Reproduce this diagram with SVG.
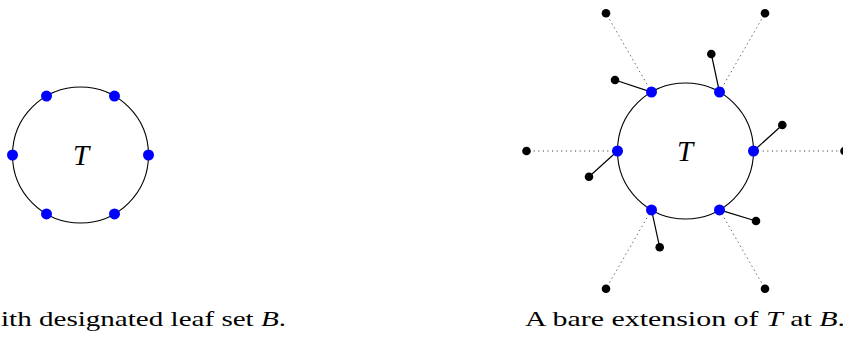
<svg xmlns="http://www.w3.org/2000/svg" width="843" height="338" viewBox="0 0 843 338">
<style>
.ring{fill:none;stroke:#000;stroke-width:1.1}
.b{fill:#0000ff}
.k{fill:#000}
.e{stroke:#000;stroke-width:1.2}
.d{stroke:#222;stroke-width:1;stroke-dasharray:1 3.6}
</style>
<rect width="843" height="338" fill="#fff"/>
<g id="connectors">
<line class="d" x1="753.5" y1="151" x2="844.5" y2="151"/>
<line class="d" x1="719.5" y1="92.1" x2="765" y2="13.3"/>
<line class="d" x1="651.5" y1="92.1" x2="606" y2="13.3"/>
<line class="d" x1="617.5" y1="151" x2="526.5" y2="151"/>
<line class="d" x1="651.5" y1="209.9" x2="606" y2="288.7"/>
<line class="d" x1="719.5" y1="209.9" x2="765" y2="288.7"/>
<line class="e" x1="651.5" y1="92.1" x2="615" y2="80"/>
<line class="e" x1="719.5" y1="92.1" x2="711.3" y2="54"/>
<line class="e" x1="753.5" y1="151" x2="782.3" y2="125"/>
<line class="e" x1="719.5" y1="209.9" x2="756" y2="221"/>
<line class="e" x1="651.5" y1="209.9" x2="659.7" y2="247.3"/>
<line class="e" x1="617.5" y1="151" x2="589" y2="176.7"/>
</g>
<g id="treeLeft">
<circle class="ring" cx="80.5" cy="155" r="68"/>
<text x="81" y="165" text-anchor="middle" font-family="Liberation Serif" font-style="italic" font-size="29">T</text>
</g>
<g id="leavesLeft">
<circle class="b" cx="148.5" cy="155" r="5.5"/>
<circle class="b" cx="114.5" cy="96.1" r="5.5"/>
<circle class="b" cx="46.5" cy="96.1" r="5.5"/>
<circle class="b" cx="12.5" cy="155" r="5.5"/>
<circle class="b" cx="46.5" cy="213.9" r="5.5"/>
<circle class="b" cx="114.5" cy="213.9" r="5.5"/>
</g>
<g id="treeRight">
<circle class="ring" cx="685.5" cy="151" r="68"/>
<text x="685" y="161" text-anchor="middle" font-family="Liberation Serif" font-style="italic" font-size="29">T</text>
</g>
<g id="outerRight">
<circle class="k" cx="844.5" cy="151" r="4.3"/>
<circle class="k" cx="765" cy="13.3" r="4.3"/>
<circle class="k" cx="606" cy="13.3" r="4.3"/>
<circle class="k" cx="526.5" cy="151" r="4.3"/>
<circle class="k" cx="606" cy="288.7" r="4.3"/>
<circle class="k" cx="765" cy="288.7" r="4.3"/>
</g>
<g id="pendantRight">
<circle class="k" cx="615" cy="80" r="4.3"/>
<circle class="k" cx="711.3" cy="54" r="4.3"/>
<circle class="k" cx="782.3" cy="125" r="4.3"/>
<circle class="k" cx="756" cy="221" r="4.3"/>
<circle class="k" cx="659.7" cy="247.3" r="4.3"/>
<circle class="k" cx="589" cy="176.7" r="4.3"/>
</g>
<g id="leavesRight">
<circle class="b" cx="753.5" cy="151" r="5.5"/>
<circle class="b" cx="719.5" cy="92.1" r="5.5"/>
<circle class="b" cx="651.5" cy="92.1" r="5.5"/>
<circle class="b" cx="617.5" cy="151" r="5.5"/>
<circle class="b" cx="651.5" cy="209.9" r="5.5"/>
<circle class="b" cx="719.5" cy="209.9" r="5.5"/>
</g>
<g id="captions">
<text x="1" y="326" font-family="Liberation Serif" font-size="21" textLength="285" lengthAdjust="spacingAndGlyphs">ith designated leaf set <tspan font-style="italic">B</tspan>.</text>
<text x="525" y="326" font-family="Liberation Serif" font-size="21" textLength="320" lengthAdjust="spacingAndGlyphs">A bare extension of <tspan font-style="italic">T</tspan> at <tspan font-style="italic">B</tspan>.</text>
</g>
</svg>
